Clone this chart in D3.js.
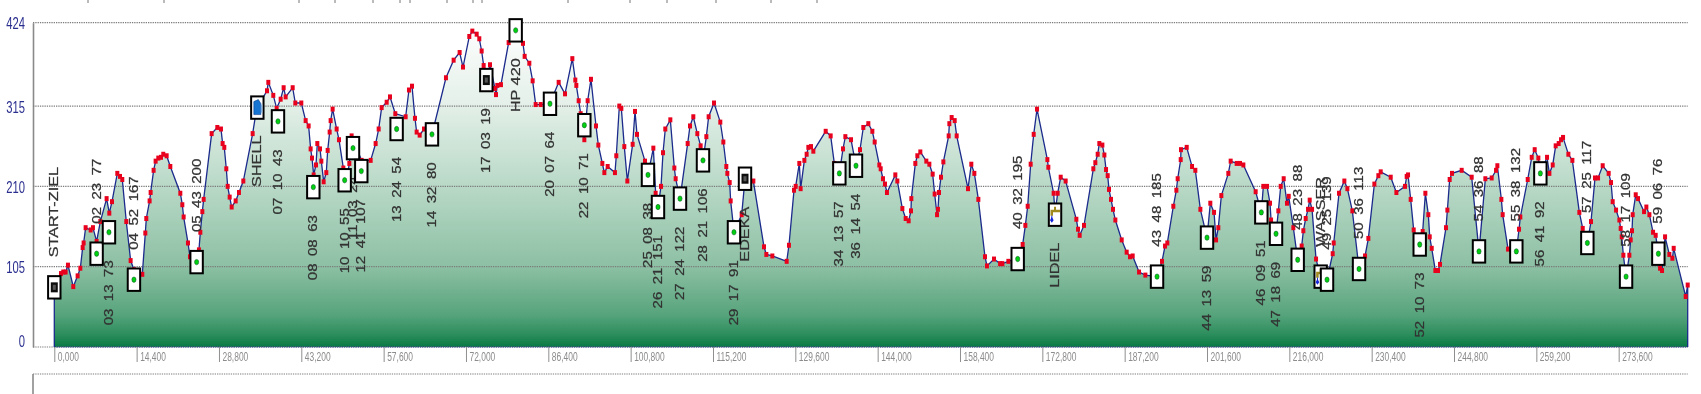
<!DOCTYPE html>
<html>
<head>
<meta charset="utf-8">
<script src="https://cdn.jsdelivr.net/npm/d3@7"></script>
<style>
  html, body { margin: 0; padding: 0; background: #fff; overflow: hidden; }
  svg { display: block; }
  text { font-family: "Liberation Sans", Arial, sans-serif; white-space: pre; }
</style>
</head>
<body>
<div id="container"></div>
<script>
/* DATA */
const profileDist = [
  0,1170,1570,1980,2390,3320,4080,4550,4960,5130,5480,6360,6760,7400,8050,9150,9620,10090,11020,11490,11890,12590,13350,13930,15390,15920,16090,16670,16850,17370,17720,18190,18660,19060,19650,20290,22040,22390,22620,23380,23730,25300,25540,25890,26120,27520,28510,29150,29440,29730,30080,30320,30670,31020,31720,32300,33060,34690,35390,37200,37430,38300,38890,39590,40110,40460,41690,42150,43200,43960,44480,44830,45070,45360,45770,46000,46470,46700,47110,47570,47810,48160,48330,48680,49380,49790,50550,51130,51600,52000,53750,55330,56200,56730,57250,58130,58710,59640,61450,62030,62560,63080,63370,63900,64660,66050,68500,69840,70890,71480,72580,73110,73870,74330,74740,75090,75560,76200,77070,77250,77480,78120,79460,80690,81970,82260,83080,83660,84190,85060,86690,88210,89320,90600,91120,91300,91710,92060,92700,93280,93860,94740,95150,95850,96200,96780,98060,98290,98820,99170,99690,100220,101150,101560,101910,103310,103830,104770,105170,105580,106110,106460,106860,107740,108440,108670,109430,110770,111180,111760,112460,113040,113450,114040,114440,115380,116480,117010,117530,117710,118120,118290,118870,120220,120800,122260,124120,124530,125580,128090,128490,129370,129660,130300,130530,131180,131580,131880,132340,132750,134910,135780,136420,137300,137940,138350,139340,140210,140910,141490,142370,143070,143480,144290,144530,144930,145280,145630,147090,147440,148320,148900,149420,149830,149890,150590,150940,151460,152510,153040,153620,153970,154380,154550,154730,155080,155490,156420,156540,156940,157470,157820,159800,160380,160910,161610,162770,163120,164350,165400,165810,166860,168490,169360,169830,170240,170760,171290,171870,173680,173850,174780,175020,175480,176010,176880,178750,179040,179330,180090,181720,182070,182480,182770,183300,183650,183940,184230,184460,184810,185160,185570,186680,187550,188130,188600,189710,190820,192860,193730,194260,194660,195710,196240,196470,197000,197050,198050,198980,199560,200440,201600,202180,202830,203180,203580,204110,205330,205740,206790,207370,207960,210110,211100,211450,212100,212620,212800,213670,214080,214490,215010,215590,215890,216700,217460,218160,218450,218860,219270,219560,219970,220670,221480,222590,223580,223760,224690,225620,226150,227020,228190,229240,229820,230870,231570,231980,233730,234720,236230,236520,236760,237220,237750,238800,239320,239790,240310,240550,240900,241540,242000,242350,243400,243640,244040,244450,246140,247890,249170,250280,251390,252150,252380,253080,253310,254250,255700,256170,256400,257690,258390,258910,259550,259900,261070,261480,262060,262580,263110,263520,263870,264800,265500,266720,267310,268120,268760,269460,269990,270800,271850,272260,272550,273140,273720,273950,274130,274420,274890,275470,275700,275930,276050,276580,276980,278030,278440,278970,279610,280070,280540,280830,281180,281710,282460,282990,283220,285320,285670
]
const profileElev = [
  79,96,98,98,107,79,93,103,130,136,156,153,156,138,164,194,175,190,227,223,219,164,113,101,95,149,168,191,202,231,243,247,248,252,250,236,201,186,170,136,118,127,150,177,193,279,287,285,266,261,233,210,196,183,191,202,217,279,312,335,346,329,312,324,339,327,339,319,319,296,289,259,247,225,238,266,259,243,216,228,257,281,296,311,285,271,234,218,240,276,244,244,266,285,313,320,327,305,301,336,341,299,281,277,285,278,352,375,385,366,406,413,409,403,387,368,349,369,338,330,342,343,398,414,397,380,371,348,317,317,318,346,331,377,349,342,322,305,271,322,350,289,264,240,228,236,228,250,315,312,262,217,265,308,278,243,225,260,201,183,210,254,285,297,234,220,194,266,289,301,279,263,244,275,301,319,294,268,236,227,215,191,151,173,220,217,131,121,119,112,133,205,210,240,207,244,252,261,262,256,282,276,240,227,259,275,271,237,258,287,292,282,268,238,233,220,213,202,225,217,181,168,165,178,194,240,250,255,243,239,226,200,173,180,202,222,242,276,292,300,296,276,207,239,227,193,118,106,115,109,109,112,116,134,159,184,239,278,311,245,235,201,175,201,222,217,167,154,146,159,233,241,252,266,264,251,232,224,206,193,180,166,140,124,118,119,98,94,92,112,132,136,184,205,220,245,258,261,236,231,180,143,188,176,140,156,198,227,243,240,240,238,203,176,210,210,188,166,148,178,210,220,188,197,156,114,132,152,168,180,192,180,115,92,88,122,136,201,217,207,178,102,119,142,213,224,229,222,202,210,223,225,193,153,134,151,201,173,144,129,100,100,108,156,179,219,227,231,222,125,220,221,231,237,193,173,128,125,154,170,219,248,258,247,227,248,227,238,263,266,271,274,252,244,176,155,136,164,221,221,237,227,215,190,179,166,155,144,120,92,120,140,152,173,199,194,177,183,173,150,146,122,103,100,144,121,116,129,66,81
]

const elevTicks = [0, 105, 210, 315, 424]
const distTicks = d3.range(0, 285670, 14400)

const markerDist = [0,7400,9560,13930,24890,35510,39120,45300,50780,52240,53690,59870,66050,75560,80690,86690,92700,103830,105580,109430,113450,118870,120800,137300,140210,168490,175020,192860,201600,211100,213670,217460,221480,222590,228190,238800,249170,255700,259900,268120,274890,280540]
const markerElev = [78,122,150,88,111,313,295,209,218,260,230,285,278,349,414,318,290,225,183,194,244,150,220,227,237,115,173,92,143,176,148,114,92,88,102,134,125,125,227,136,92,122]
const markerLabels = ["START-ZIEL","02 23 77","03 13 73","04 52 167","05 43 200","SHELL","07 10 43","08 08 63","10 10 55","11 03 24","12 41 107","13 24 54","14 32 80","17 03 19","HP 420","20 07 64","22 10 71","25 08 38","26 21 151","27 24 122","28 21 106","29 17 91","EDEKA","34 13 57","36 14 54","40 32 195","LIDEL","43 48 185","44 13 59","46 09 51","47 18 69","48 23 88","WASSER","49 25 139","50 36 113","52 10 73","54 36 88","55 38 132","56 41 92","57 25 117","58 17 109","59 06 76"]
const markerAbove = ["START-ZIEL","02 23 77","04 52 167","05 43 200","40 32 195","43 48 185","48 23 88","WASSER","49 25 139","50 36 113","54 36 88","55 38 132","57 25 117","58 17 109","59 06 76"]
const markerFood = ["START-ZIEL","17 03 19","EDEKA"]
const markerFuel = ["SHELL"]
const markerWater = ["LIDEL","WASSER"]

/* CONSTANTS AND GLOBALS */
const width = 1701,
  height = 394,
  margin = { top: 22.7, bottom: 47, left: 54.3, right: 13.3 },
  axisX = 33,
  panelTop = 374

// bits of the cropped heading line that still show at the very top
const headerMarks = [88,164,299,335,373,400,410,447,473,482,568,630,667,716,771,817]

// + SCALES
const xScale = d3.scaleLinear()
  .domain([0, 285670])
  .range([margin.left, width - margin.right])

const yScale = d3.scaleLinear()
  .domain([0, 424])
  .range([height - margin.bottom, margin.top])

// CREATE SVG ELEMENT
const svg = d3.select("#container")
  .append("svg")
  .attr("width", width)
  .attr("height", height)

const defs = svg.append("defs")

const grad = defs.append("linearGradient")
  .attr("id", "areaFill")
  .attr("gradientUnits", "userSpaceOnUse")
  .attr("x1", 0).attr("x2", 0)
  .attr("y1", yScale(424)).attr("y2", yScale(0))

grad.selectAll("stop")
  .data([[0, "#ffffff"], [0.25, "#e4f0e9"], [0.5, "#b9d9c7"], [0.75, "#8dc0a4"], [0.9, "#57a47c"], [0.96, "#2d8e5d"], [1, "#0a7a43"]])
  .join("stop")
  .attr("offset", d => d[0])
  .attr("stop-color", d => d[1])

// the reference is a soft, rescaled screenshot
defs.append("filter").attr("id", "soft")
  .append("feGaussianBlur").attr("stdDeviation", 0.45)

const chart = svg.append("g").attr("filter", "url(#soft)")

const profile = profileDist.map((d, i) => ({ dist: d, elev: profileElev[i] }))

// DRAW AREA
const areaGen = d3.area()
  .x(d => xScale(d.dist))
  .y0(yScale(0))
  .y1(d => yScale(d.elev))

chart.append("path")
  .datum(profile)
  .attr("fill", "url(#areaFill)")
  .attr("d", areaGen)

// BUILD AND CALL AXES
const yAxis = d3.axisLeft(yScale)
  .tickValues(elevTicks)
  .tickSize(0)
  .tickPadding(0)

const yAxisGroup = chart.append("g")
  .attr("class", "yAxis")
  .attr("transform", `translate(${axisX}, 0)`)
  .call(yAxis)

yAxisGroup.select(".domain").attr("stroke", "#8a8a8a").attr("stroke-width", 1.6)
yAxisGroup.selectAll("text")
  .attr("x", 0)
  .attr("dy", "0.36em")
  .attr("text-anchor", "end")
  .attr("fill", "#2b2f8f")
  .attr("font-size", 17)
  // the 0 sits a bit above its line in the original
  .attr("transform", d => `translate(-8, ${d === 0 ? -7 : 0}) scale(0.66, 1)`)

// dotted grid runs over the fill
chart.append("g")
  .selectAll("line")
  .data(elevTicks)
  .join("line")
  .attr("x1", axisX)
  .attr("x2", width - margin.right)
  .attr("y1", d => yScale(d))
  .attr("y2", d => yScale(d))
  .attr("stroke", "#7c7c7c")
  .attr("stroke-width", 1.2)
  .attr("stroke-dasharray", "1.3,1")

chart.append("line")
  .attr("x1", margin.left)
  .attr("x2", width - margin.right)
  .attr("y1", yScale(0))
  .attr("y2", yScale(0))
  .attr("stroke", "#1c3590")
  .attr("stroke-width", 1.2)
  .attr("stroke-dasharray", "1.3,1")

const xAxis = d3.axisBottom(xScale)
  .tickValues(distTicks)
  .tickSize(15)
  .tickFormat(d => d === 0 ? "0,000" : d3.format(",")(d))

const xAxisGroup = chart.append("g")
  .attr("class", "xAxis")
  .attr("transform", `translate(0, ${yScale(0)})`)
  .call(xAxis)

xAxisGroup.select(".domain").remove()
xAxisGroup.selectAll(".tick line").attr("stroke", "#8f8f8f").attr("stroke-width", 1)
xAxisGroup.selectAll(".tick text")
  .attr("x", 0)
  .attr("y", 9)
  .attr("dy", "0.36em")
  .attr("text-anchor", "start")
  .attr("fill", "#8c8c8c")
  .attr("font-size", 13)
  .attr("transform", "translate(3, 0) scale(0.65, 1)")

// LINE GENERATOR FUNCTION
const lineGen = d3.line()
  .x(d => xScale(d.dist))
  .y(d => yScale(d.elev))

chart.append("path")
  .datum([{ dist: 0, elev: 0 }, ...profile, { dist: 285670, elev: 0 }])
  .attr("fill", "none")
  .attr("stroke", "#1b2a8c")
  .attr("stroke-width", 1.3)
  .attr("d", lineGen)

chart.append("g")
  .selectAll("rect")
  .data(profile.slice(1))
  .join("rect")
  .attr("x", d => xScale(d.dist) - 2)
  .attr("y", d => yScale(d.elev) - 2.5)
  .attr("width", 4)
  .attr("height", 5)
  .attr("fill", "#e8061f")

// MARKERS
const markers = markerDist.map((d, i) => ({
  dist: d,
  elev: markerElev[i],
  label: markerLabels[i],
  above: markerAbove.includes(markerLabels[i])
}))

// waypoint codes have wider gaps than the names
const isCode = d => /^\d/.test(d.label)

chart.append("g")
  .selectAll("text")
  .data(markers)
  .join("text")
  .attr("transform", d => {
    const y = yScale(d.elev) + (d.above ? -30 : 28)
    return `translate(${xScale(d.dist) + 4}, ${y}) rotate(-90) scale(${isCode(d) ? 1.25 : 1.35}, 1)`
  })
  .attr("text-anchor", d => d.above ? "start" : "end")
  .attr("fill", "#333")
  .attr("stroke", "#333")
  .attr("stroke-width", 0.25)
  .attr("font-size", 12)
  .text(d => isCode(d) ? d.label.replace(/ /g, "\u2002") : d.label)

const boxes = chart.append("g")
  .selectAll("g")
  .data(markers)
  .join("g")
  .attr("transform", d => `translate(${xScale(d.dist)}, ${yScale(d.elev)})`)

boxes.append("rect")
  .attr("x", -6.2)
  .attr("y", -11.2)
  .attr("width", 12.4)
  .attr("height", 22.4)
  .attr("fill", "#fff")
  .attr("stroke", "#000")
  .attr("stroke-width", 2)

// plain marks get a small green dot
boxes.filter(d => !markerFood.includes(d.label) && !markerFuel.includes(d.label) && !markerWater.includes(d.label))
  .append("ellipse")
  .attr("rx", 2.1)
  .attr("ry", 2.7)
  .attr("fill", "#00d010")
  .attr("stroke", "#0b4f28")
  .attr("stroke-width", 0.5)

const food = boxes.filter(d => markerFood.includes(d.label))
food.append("rect").attr("x", -3.5).attr("y", -5).attr("width", 7).attr("height", 10).attr("fill", "#111")
food.append("rect").attr("x", -1.5).attr("y", -2.5).attr("width", 3).attr("height", 5).attr("fill", "#555")

const fuel = boxes.filter(d => markerFuel.includes(d.label))
fuel.append("path")
  .attr("d", "M-3.5,-6L1,-8L3.5,-4L3.5,7L-3.5,7Z")
  .attr("fill", "#1274d2")
  .attr("stroke", "#0d3f8f")
  .attr("stroke-width", 0.6)
fuel.append("rect").attr("x", 3.5).attr("y", -3).attr("width", 1.5).attr("height", 8).attr("fill", "#7fb4e6")

const tap = boxes.filter(d => markerWater.includes(d.label))
tap.append("path")
  .attr("d", "M-4.5,-2L-4.5,-5L-1,-5L-1,-8L1,-8L1,-5L5,-5L5,-2.5L-2,-2.5L-2,1L-4.5,1Z")
  .attr("fill", "#a08a1c")
tap.append("path")
  .attr("d", "M-3.2,2L-1.4,5.5L-3.2,8L-5,5.5Z")
  .attr("fill", "#1426d8")
tap.append("rect").attr("x", -3.7).attr("y", 1).attr("width", 1).attr("height", 5).attr("fill", "#1426d8")

// SECOND PANEL, only its top edge is in the picture
chart.append("line")
  .attr("x1", axisX).attr("x2", width - margin.right)
  .attr("y1", panelTop).attr("y2", panelTop)
  .attr("stroke", "#7c7c7c")
  .attr("stroke-width", 1.2)
  .attr("stroke-dasharray", "1.3,1")

chart.append("line")
  .attr("x1", axisX).attr("x2", axisX)
  .attr("y1", panelTop).attr("y2", height)
  .attr("stroke", "#8a8a8a")
  .attr("stroke-width", 1.6)

chart.append("g")
  .selectAll("line")
  .data(headerMarks)
  .join("line")
  .attr("x1", d => d).attr("x2", d => d)
  .attr("y1", 0).attr("y2", 3)
  .attr("stroke", "#777")
  .attr("stroke-width", 1)
</script>
</body>
</html>
